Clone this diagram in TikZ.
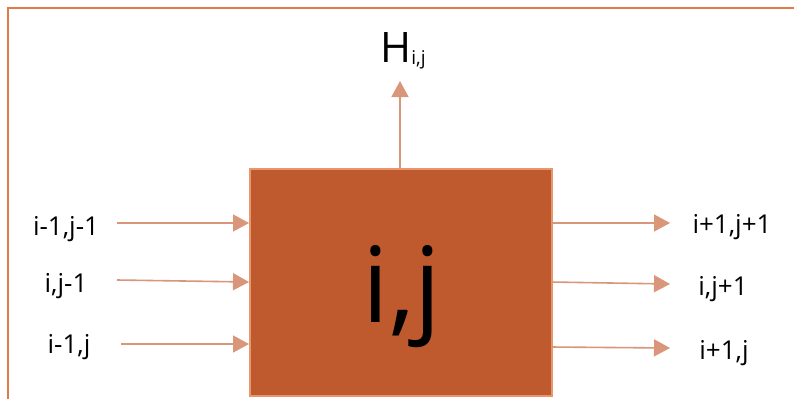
\documentclass[tikz,border=0pt]{standalone}
\usepackage{fontspec}
\setmainfont{Open Sans}
\usetikzlibrary{arrows.meta}
\definecolor{frameor}{RGB}{224,122,74}
\definecolor{boxfill}{RGB}{190,90,46}
\definecolor{boxedge}{RGB}{232,150,110}
\definecolor{arrowc}{RGB}{217,150,122}
\tikzset{
  lbl/.style={anchor=base, inner sep=0pt, font=\fontsize{26}{28}\selectfont},
  conn/.style={draw=arrowc, line width=1.6pt, -{Triangle[length=16pt,width=17pt]}},
}
\begin{document}
\begin{tikzpicture}[x=1pt,y=-1pt]
\useasboundingbox (0,0) rectangle (794,399);
\fill[white] (0,0) rectangle (794,399);
% frame
\draw[frameor, line width=1.6pt] (8,399) -- (8,8) -- (794,8);
% box
\node[draw=boxedge, fill=boxfill, line width=2pt, minimum width=302pt, minimum height=227pt, inner sep=0pt, anchor=north west] (box) at (249,168) {};
\node[anchor=base, inner sep=0pt, font=\fontsize{105}{110}\selectfont] (ij) at (402,322) {i,j};
% top output
\node[anchor=base, inner sep=0pt] (H) at (403,62) {{\fontsize{42}{44}\selectfont H}\raisebox{-2pt}{\fontsize{19}{20}\selectfont i,j}};
\coordinate (htip) at (400,81);
\draw[conn] (box.north -| htip) -- (htip);
% left inputs
\node[lbl] (l1) at (66,235) {i-1,j-1};
\node[lbl] (l2) at (66,292) {i,j-1};
\node[lbl] (l3) at (69,353) {i-1,j};
\coordinate (s1) at (117,223);
\coordinate (s2) at (117,280);
\coordinate (s3) at (121,344);
\coordinate (e1) at (249,223);
\coordinate (e2) at (249,282);
\coordinate (e3) at (249,344);
\draw[conn] (s1) -- (e1);
\draw[conn] (s2) -- (e2);
\draw[conn] (s3) -- (e3);
% right outputs
\node[lbl] (r1) at (732,233) {i+1,j+1};
\node[lbl] (r2) at (723,295) {i,j+1};
\node[lbl] (r3) at (724,359) {i+1,j};
\coordinate (o1) at (551,223);
\coordinate (o2) at (551,282);
\coordinate (o3) at (551,347);
\coordinate (t1) at (670,223);
\coordinate (t2) at (670,284);
\coordinate (t3) at (670,348);
\draw[conn] (o1) -- (t1);
\draw[conn] (o2) -- (t2);
\draw[conn] (o3) -- (t3);
\end{tikzpicture}
\end{document}
